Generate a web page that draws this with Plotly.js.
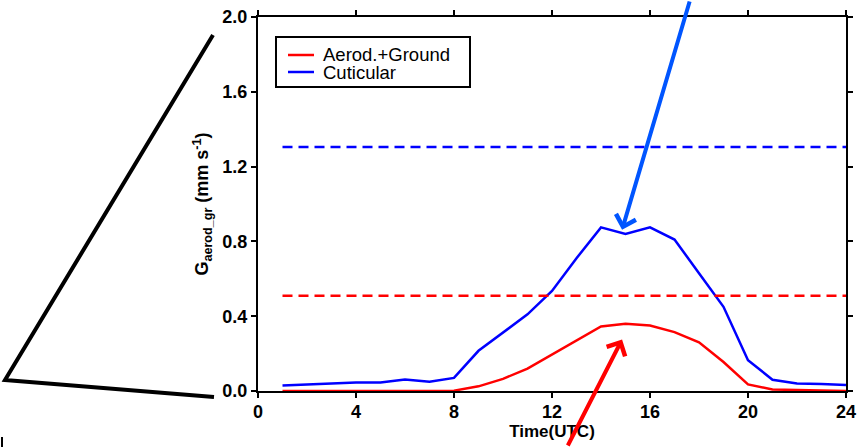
<!DOCTYPE html>
<html>
<head>
<meta charset="utf-8">
<script src="https://cdn.plot.ly/plotly-3.0.1.min.js"></script>
<style>
  html, body { margin: 0; padding: 0; background: #fff; }
  #chart { width: 866px; height: 447px; }
</style>
</head>
<body>
<div id="chart"></div>
<script>
// ---- data ----
const hours = [1, 2, 3, 4, 5, 6, 7, 8, 9, 10, 11, 12, 13, 14, 15, 16, 17, 18, 19, 20, 21, 22, 23, 24];
const aerodGround = [0.0, 0.0, 0.0, 0.0, 0.0, 0.0, 0.0, 0.002, 0.025, 0.065, 0.12, 0.195, 0.27, 0.345, 0.36, 0.35, 0.315, 0.26, 0.155, 0.035, 0.008, 0.004, 0.002, 0.0];
const cuticular = [0.03, 0.035, 0.04, 0.045, 0.045, 0.062, 0.05, 0.07, 0.215, 0.315, 0.41, 0.535, 0.71, 0.875, 0.84, 0.875, 0.81, 0.63, 0.45, 0.165, 0.06, 0.04, 0.038, 0.032];
const thresholdHours = [1, 24];
const aerodGroundLevel = 0.51;
const cuticularLevel = 1.305;
const seriesNames = ['Aerod.+Ground', 'Cuticular'];
const xTicks = [0, 4, 8, 12, 16, 20, 24];
const yTicks = [0.0, 0.4, 0.8, 1.2, 1.6, 2.0];
const yTickLabels = ['0.0', '0.4', '0.8', '1.2', '1.6', '2.0'];

const RED = '#ff0000';
const BLUE = '#0000ff';
const FONT = 'Liberation Sans, Arial, Helvetica, sans-serif';

const traces = [
  { x: hours, y: aerodGround, name: seriesNames[0], mode: 'lines', line: { color: RED, width: 2.5 } },
  { x: hours, y: cuticular, name: seriesNames[1], mode: 'lines', line: { color: BLUE, width: 2.5 } },
  { x: thresholdHours, y: thresholdHours.map(() => aerodGroundLevel), mode: 'lines', showlegend: false,
    line: { color: RED, width: 2.5, dash: '10px,6px' } },
  { x: thresholdHours, y: thresholdHours.map(() => cuticularLevel), mode: 'lines', showlegend: false,
    line: { color: BLUE, width: 2.5, dash: '10px,6px' } }
];

// pixel helpers for paper coords (plot area: x 258..846, y 17..391)
const L = 258, R = 846, T = 17, B = 391;
const px = v => (v - L) / (R - L);
const py = v => (B - v) / (B - T);

const axisCommon = {
  showline: true, linecolor: '#000', linewidth: 2, mirror: 'ticks',
  ticks: 'outside', ticklen: 5, tickwidth: 2, tickcolor: '#000',
  showgrid: false, zeroline: false
};

// manual legend (box, line samples, labels) matching the reference's compact spacing
const legendColors = [RED, BLUE];
const legendRows = [55, 72];
const legendShapes = [
  { type: 'rect', xref: 'paper', yref: 'paper', x0: px(276), x1: px(470), y0: py(37), y1: py(87),
    line: { color: '#000', width: 2 }, fillcolor: '#fff', layer: 'above' }
].concat(seriesNames.map((n, i) => ({
  type: 'line', xref: 'paper', yref: 'paper', x0: px(288), x1: px(314),
  y0: py(legendRows[i]), y1: py(legendRows[i]), line: { color: legendColors[i], width: 2.5 }, layer: 'above'
})));
const legendLabels = seriesNames.map((n, i) => ({
  xref: 'paper', yref: 'paper', x: px(321), y: py(legendRows[i]), xanchor: 'left', yanchor: 'middle',
  text: n, showarrow: false, font: { family: FONT, size: 18.5, color: '#000' }
}));

const layout = {
  width: 866, height: 447,
  margin: { l: L, r: 866 - R, t: T, b: 447 - B, pad: 0 },
  paper_bgcolor: '#fff', plot_bgcolor: '#fff',
  showlegend: false,
  xaxis: Object.assign({}, axisCommon, {
    range: [0, 24], tickmode: 'array', tickvals: xTicks,
    ticklabelstandoff: -2,
    tickfont: { family: FONT, size: 18, color: '#000', weight: 'bold' },
    title: { text: 'Time(UTC)', standoff: 0, font: { family: FONT, size: 17, color: '#000', weight: 'bold' } }
  }),
  yaxis: Object.assign({}, axisCommon, {
    range: [0, 2.0], tickmode: 'array', tickvals: yTicks, ticktext: yTickLabels,
    tickfont: { family: FONT, size: 18, color: '#000', weight: 'bold' },
    title: { text: 'G<sub>aerod_gr</sub> (mm s<sup>-1</sup>)', standoff: 9,
      font: { family: FONT, size: 18, color: '#000', weight: 'bold' } }
  }),
  shapes: [
    { type: 'path', xref: 'paper', yref: 'paper',
      path: `M ${px(213)} ${py(35)} L ${px(5)} ${py(380)} L ${px(214)} ${py(397)}`,
      line: { color: '#000', width: 4 } },
    { type: 'line', xref: 'paper', yref: 'paper',
      x0: px(2), y0: py(437), x1: px(2), y1: py(447),
      line: { color: '#000', width: 2 } }
  ].concat(legendShapes),
  annotations: [
    { x: 14.86, y: 0.862, xref: 'x', yref: 'y', ax: 68, ay: -240, text: '',
      showarrow: true, arrowhead: 4, arrowsize: 1, arrowwidth: 4, arrowcolor: 'rgb(0,85,255)' },
    { x: 14.86, y: 0.275, xref: 'x', yref: 'y', ax: -55, ay: 115, text: '',
      showarrow: true, arrowhead: 4, arrowsize: 1, arrowwidth: 4, arrowcolor: RED }
  ].concat(legendLabels)
};

Plotly.newPlot('chart', traces, layout, { displayModeBar: false, staticPlot: true });
</script>
</body>
</html>
